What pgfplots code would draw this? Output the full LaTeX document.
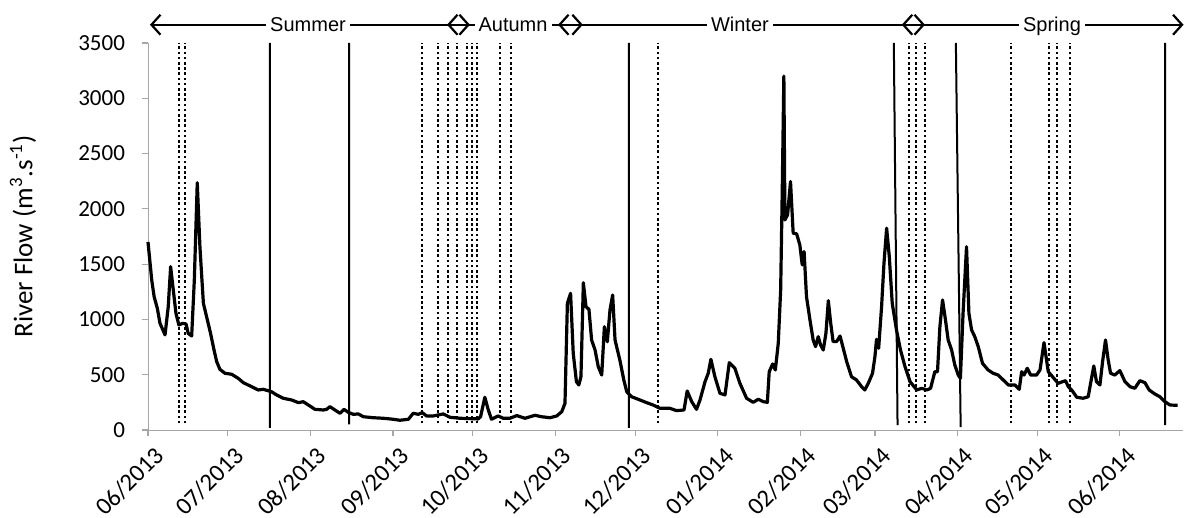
\documentclass[border=0pt]{standalone}
\usepackage{fontspec}
\setmainfont{Carlito}
\newfontfamily\arialfont{Liberation Sans}
\usepackage{pgfplots}
\pgfplotsset{compat=1.18}
\usetikzlibrary{arrows.meta}

\begin{document}
\begin{tikzpicture}
\begin{axis}[
  scale only axis,
  width=517.5pt, height=193.5pt,
  xmin=0, xmax=388.7, ymin=0, ymax=3500,
  clip=false,
  axis lines=left,
  axis line style={-, draw=gray!70},
  tick style={draw=gray!70, line width=0.6pt},
  tick align=outside,
  major tick length=3pt,
  ytick={0,500,...,3500},
  xtick={0,30,61,92,122,153,183,214,245,273,304,334,365},
  xticklabels={06/2013,07/2013,08/2013,09/2013,10/2013,11/2013,12/2013,01/2014,02/2014,03/2014,04/2014,05/2014,06/2014},
  xticklabel style={rotate=45, anchor=north east, font=\fontsize{12.3}{14}\selectfont, xshift=2pt, yshift=-1.5pt},
  yticklabel style={font=\fontsize{11.5}{14}\selectfont, xshift=-5pt},
  /pgf/number format/assume math mode=true,
  /pgf/number format/1000 sep={},
  ylabel={River Flow (m\textsuperscript{3}.s\textsuperscript{-1})},
  ylabel style={at={(axis description cs:-0.1208,0.5)}, anchor=center, font=\fontsize{13.5}{15}\selectfont},
  unbounded coords=jump,
]
\coordinate (O) at (axis cs:0,0);

% solid event lines
\addplot[black, line width=1pt] coordinates {
 (45.8,20) (45.8,3500) (45.8,nan)
 (75.5,50) (75.5,3500) (75.5,nan)
 (180.6,20) (180.6,3500) (180.6,nan)
 (281.5,45) (280.1,3500) (280.1,nan)
 (305.2,27) (303.4,3500) (303.4,nan)
 (382,45) (382,3500)
};

% dotted event lines
\addplot[black, line width=1.1pt, dash pattern=on 1.3pt off 1.3pt] coordinates {
 (11.6,60) (11.6,3500) (11.6,nan)
 (13.9,60) (13.9,3500) (13.9,nan)
 (103,60) (103,3500) (103,nan)
 (108.8,60) (108.8,3500) (108.8,nan)
 (112.8,60) (112.8,3500) (112.8,nan)
 (115.9,60) (115.9,3500) (115.9,nan)
 (119.7,60) (119.7,3500) (119.7,nan)
 (121.6,60) (121.6,3500) (121.6,nan)
 (123.5,60) (123.5,3500) (123.5,nan)
 (132.2,60) (132.2,3500) (132.2,nan)
 (136.4,60) (136.4,3500) (136.4,nan)
 (191.6,60) (191.6,3500) (191.6,nan)
 (285.8,60) (285.8,3500) (285.8,nan)
 (288.4,60) (288.4,3500) (288.4,nan)
 (291.8,60) (291.8,3500) (291.8,nan)
 (324.1,60) (324.1,3500) (324.1,nan)
 (338.3,60) (338.3,3500) (338.3,nan)
 (341.4,60) (341.4,3500) (341.4,nan)
 (346.2,60) (346.2,3500)
};

% river flow
\addplot[black, line width=1.6pt, line join=round, no marks] coordinates {
(0,1700) (1.4,1357) (2.3,1206) (3.5,1101) (4.5,965) (6.4,860) (7.6,1115)
(8.5,1477) (9.5,1266) (10.5,1055) (11.6,950) (13,965) (14.3,958) (15.1,874)
(16.4,850) (17.4,1357) (18.5,2236) (19.5,1657) (20.8,1146) (22,1025)
(23.5,874) (24.8,723) (25.8,618) (27,549) (28.9,513) (31.4,504) (33.9,467)
(35.8,428) (38.9,392) (41.4,362) (43.3,368) (46.4,346) (48.3,317) (50.8,287)
(54,271) (56.5,247) (58.3,256) (60.8,217) (62.7,187) (65.8,181) (67.1,187)
(68.3,211) (70.2,181) (72.1,151) (73.6,187) (75.2,160) (77.1,142) (79,145)
(80.9,120) (84.6,111) (88.4,106) (92.1,97) (94.6,88) (97.8,97) (99.6,151)
(101.5,142) (103,157) (104.6,127) (107.1,127) (110.9,145) (113.4,115)
(117.2,106) (124,100) (124.9,120) (126.5,296) (127.8,181) (129,97)
(131.5,127) (133.4,106) (135.9,106) (138.5,130) (141.6,106) (145.3,133)
(147.8,120) (151,111) (153.5,127) (155.4,166) (156.6,241) (157.5,1146)
(158.7,1236) (159.7,693) (160.9,437) (161.8,407) (162.6,482) (163.5,1332)
(164.5,1115) (165.6,1091) (166.6,814) (167.9,723) (169.1,572) (170.4,497)
(171.4,934) (172.5,798) (173.5,1085) (174.5,1221) (175.4,814) (177.2,633)
(178.7,452) (179.8,346) (181.6,301) (184.8,271) (187.3,247) (189.7,226)
(192.3,196) (196,196) (198.5,175) (201.3,181) (202.5,353) (204.2,256)
(206,187) (207.3,271) (209.2,437) (210.4,513) (211.4,639) (212.9,482)
(214.8,332) (216.7,317) (218.3,609) (220.4,558) (222.3,422) (224.8,287)
(227.3,250) (229.2,278) (231.1,256) (232.6,250) (233.3,527) (234.6,597)
(235.6,543) (236.7,784) (237.6,1266) (238.2,2170) (238.8,3200) (239.2,1900)
(240.2,1946) (241.3,2247) (242.3,1780) (243.6,1774) (244.8,1674) (245.7,1493)
(246.4,1614) (247.3,1206) (248.6,996) (249.8,814) (250.7,754) (251.7,844)
(252.6,769) (253.6,724) (254.6,874) (255.5,1170) (256.4,965) (257.3,799)
(258.6,799) (259.9,850) (261.1,739) (262.4,618) (264.2,482) (266.1,452)
(268,392) (269.2,362) (270.5,422) (272.1,513) (273,663) (273.6,820)
(274.4,739) (275.5,1115) (276.4,1508) (277.4,1825) (278.4,1568) (279.5,1146)
(281.1,905) (282.6,724) (284.3,573) (286.2,437) (288.7,362) (290.6,377)
(292.5,362) (293.9,377) (295.5,527) (296.5,527) (297.4,934) (298.4,1176)
(299.5,995) (300.5,814) (301.8,724) (303,588) (304.3,497) (305.1,467)
(306.1,1055) (307.4,1657) (308.3,1055) (309.3,905) (310.5,844) (311.8,754)
(313.4,603) (315.5,543) (317.4,513) (319.3,497) (321.2,452) (323.1,407)
(325.6,407) (327.2,368) (328.1,527) (329,497) (330.2,558) (331.5,497)
(333.7,497) (335,543) (336.5,790) (338.1,527) (339.7,482) (341.8,422)
(343.5,437) (344.6,446) (345.6,392) (346.9,362) (348.8,296) (351.2,287)
(353.1,301) (354,422) (355.2,579) (356.2,437) (357.5,407) (358.5,618)
(359.6,814) (360.6,633) (361.5,513) (363.1,497) (365,537) (366.9,437)
(368.8,392) (370.6,377) (372.5,446) (374.4,428) (376,362) (378.1,326)
(380,301) (381.9,256) (383.8,226) (386.7,223)
};

% seasons
\addplot[black, line width=1.1pt, {Straight Barb[length=4.5pt,width=10pt]}-{Straight Barb[length=4.5pt,width=10pt]}] coordinates {(0.75,3665) (120.9,3665)};
\addplot[black, line width=1.1pt, {Straight Barb[length=4.5pt,width=10pt]}-{Straight Barb[length=4.5pt,width=10pt]}] coordinates {(112.3,3665) (163.3,3665)};
\addplot[black, line width=1.1pt, {Straight Barb[length=4.5pt,width=10pt]}-{Straight Barb[length=4.5pt,width=10pt]}] coordinates {(154,3665) (291.8,3665)};
\addplot[black, line width=1.1pt, {Straight Barb[length=4.5pt,width=10pt]}-{Straight Barb[length=4.5pt,width=10pt]}] coordinates {(283.1,3665) (388.9,3665)};
\node[fill=white, inner xsep=2pt, inner ysep=1pt, anchor=base, yshift=-3.6pt, font=\arialfont\fontsize{10}{12}\selectfont] at (axis cs:60.1,3665) {Summer};
\node[fill=white, inner xsep=2pt, inner ysep=1pt, anchor=base, yshift=-3.6pt, font=\arialfont\fontsize{10}{12}\selectfont] at (axis cs:137.1,3665) {Autumn};
\node[fill=white, inner xsep=2pt, inner ysep=1pt, anchor=base, yshift=-3.6pt, font=\arialfont\fontsize{10}{12}\selectfont] at (axis cs:222.3,3665) {Winter};
\node[fill=white, inner xsep=2pt, inner ysep=1pt, anchor=base, yshift=-3.6pt, font=\arialfont\fontsize{10}{12}\selectfont] at (axis cs:339.5,3665) {Spring};
\end{axis}
\pgfresetboundingbox
\path[use as bounding box] ([shift={(-74pt,-44pt)}]O) rectangle ([shift={(518.5pt,215pt)}]O);
\end{tikzpicture}
\end{document}
